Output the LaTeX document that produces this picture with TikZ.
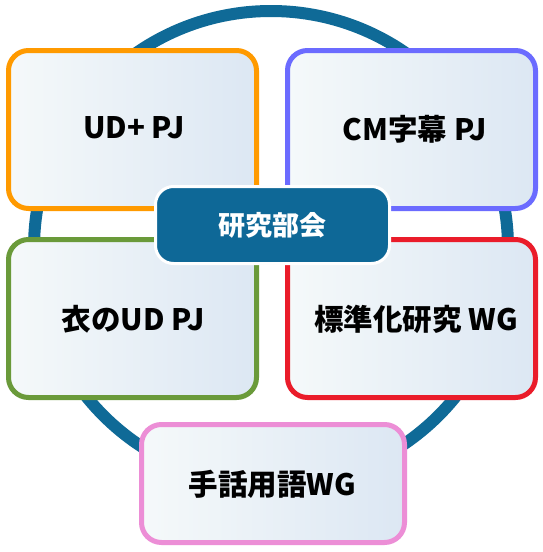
\documentclass[tikz,border=0pt]{standalone}
\usepackage{fontspec}
\newfontfamily\jpfont{Noto Sans CJK JP}
\definecolor{ringc}{HTML}{0F6A97}
\definecolor{hubc}{HTML}{0E6897}
\definecolor{boxL}{HTML}{F5F9FA}
\definecolor{boxR}{HTML}{DCE7F3}
\definecolor{cOrange}{HTML}{FF9A00}
\definecolor{cBlue}{HTML}{6B6BFF}
\definecolor{cGreen}{HTML}{6A9A3A}
\definecolor{cRed}{HTML}{EA1C2A}
\definecolor{cPink}{HTML}{EC8ED6}
\tikzset{
  ring/.style={draw=ringc, line width=12pt},
  pjbox/.style={rounded corners=20pt, line width=5pt, left color=boxL, right color=boxR,
    minimum width=248pt, minimum height=158pt, inner sep=0pt},
  hub/.style={rounded corners=18pt, line width=3pt, draw=white, fill=hubc,
    minimum width=234pt, minimum height=77pt, inner sep=0pt,
    font=\jpfont\bfseries\fontsize{27}{32}\selectfont, text=white},
  lbl/.style={font=\jpfont\bfseries\fontsize{29.5}{34}\selectfont, text=black, inner sep=0pt}
}
\begin{document}
\begin{tikzpicture}[x=1pt,y=-1pt]
\useasboundingbox (0,0) rectangle (543,552);
\fill[white] (0,0) rectangle (543,552);
\node[ring, circle, minimum size=474pt, inner sep=0pt] (ringn) at (271,248) {};
\node[pjbox, draw=cOrange] (ud) at (132.5,129.5) {};
\node[pjbox, draw=cBlue] (cm) at (411.5,129.5) {};
\node[pjbox, draw=cGreen] (ko) at (132.5,318.5) {};
\node[pjbox, draw=cRed] (std) at (411.5,318.5) {};
\node[pjbox, draw=cPink, minimum width=263pt, minimum height=118pt] (sl) at (273,483.5) {};
\node[lbl] (tud) at (134,128) {UD+ PJ};
\node[lbl] (tcm) at (415,129) {CM字幕 PJ};
\node[lbl] (tko) at (133,319) {衣のUD PJ};
\node[lbl] (tstd) at (416,319) {標準化研究 WG};
\node[lbl] (tsl) at (272.5,484) {手話用語WG};
\node[hub] (hubn) at (272.5,225) {研究部会};
\end{tikzpicture}
\end{document}
